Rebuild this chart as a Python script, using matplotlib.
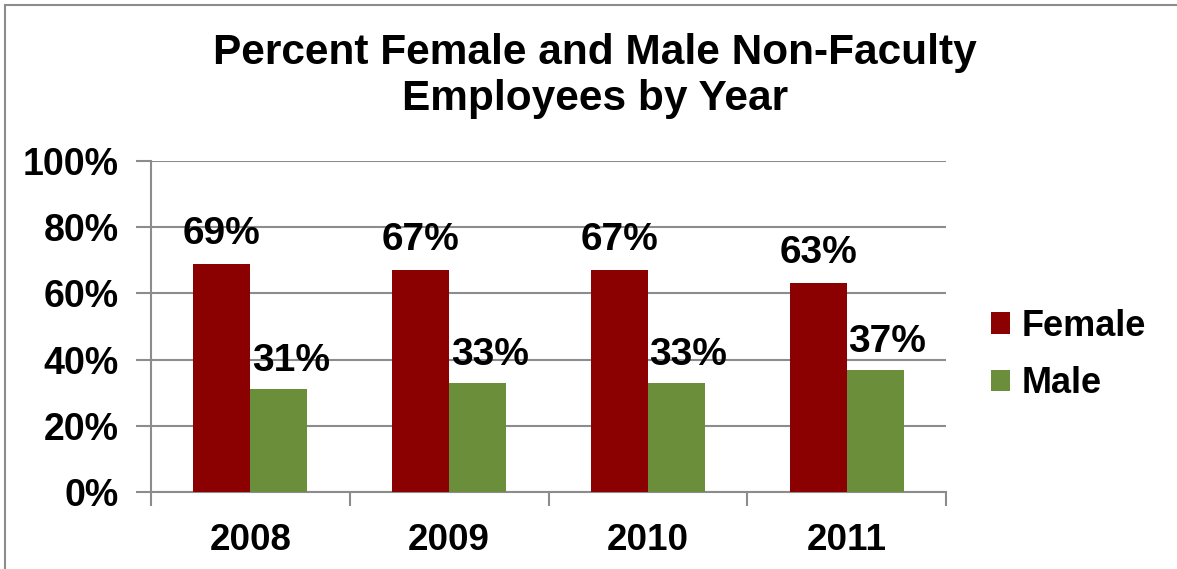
import matplotlib
matplotlib.use("Agg")
import matplotlib.pyplot as plt
from matplotlib.lines import Line2D
import numpy as np

years = ["2008", "2009", "2010", "2011"]
female = [69, 67, 67, 63]
male = [31, 33, 33, 37]
female_labels = ["69%", "67%", "67%", "63%"]
male_labels = ["31%", "33%", "33%", "37%"]
yticks = [0, 20, 40, 60, 80, 100]
ytick_labels = ["0%", "20%", "40%", "60%", "80%", "100%"]

plt.rcParams['font.family'] = ['Liberation Sans', 'DejaVu Sans']
plt.rcParams['font.weight'] = 'bold'

W, H = 1177, 569
fig = plt.figure(figsize=(W / 100, H / 100), dpi=100)
ax = fig.add_axes([151 / W, 1 - 492 / H, (946 - 151) / W, (492 - 161) / H])

c_f = "#8B0000"
c_m = "#6B8E3A"
grid_c = "#8C8C8C"
x = np.arange(len(years))
bw = 0.287
bf = ax.bar(x - bw / 2, female, bw, color=c_f, label="Female", zorder=3)
bm = ax.bar(x + bw / 2, male, bw, color=c_m, label="Male", zorder=3)

for xi, v, t in zip(x, female, female_labels):
    ax.annotate(t, (xi - bw / 2, v), xytext=(0, 20), textcoords='offset pixels',
                ha='center', va='baseline', fontsize=28, fontweight='bold')
for xi, v, t in zip(x, male, male_labels):
    ax.annotate(t, (xi + bw / 2, v), xytext=(12, 18), textcoords='offset pixels',
                ha='center', va='baseline', fontsize=28, fontweight='bold')

ax.set_xlim(-0.5, len(years) - 0.5)
ax.set_ylim(0, 100)
ax.set_yticks(yticks)
ax.set_yticklabels(ytick_labels, fontsize=27, fontweight='bold')
ax.set_xticks(x)
ax.set_xticklabels(years, fontsize=26.5, fontweight='bold')
ax.set_xticks(np.arange(-0.5, len(years), 1.0), minor=True)
ax.tick_params(axis='x', which='major', length=0, pad=22)
ax.tick_params(axis='x', which='minor', length=10, width=1.5, color=grid_c)
ax.tick_params(axis='y', length=11, width=1.5, color=grid_c, pad=12)
ax.yaxis.grid(True, color=grid_c, linewidth=1.5, zorder=0)
ax.set_axisbelow(True)
for s in ['top', 'right']:
    ax.spines[s].set_visible(False)
for s in ['left', 'bottom']:
    ax.spines[s].set_color(grid_c)
    ax.spines[s].set_linewidth(1.5)

fig.text(595 / W, 1 - 76 / H, "Percent Female and Male Non-Faculty\nEmployees by Year",
         ha='center', va='center', fontsize=30.5, fontweight='bold', linespacing=1.2)

leg = fig.legend(handles=[bf, bm], loc='center left', bbox_to_anchor=(958 / W, 1 - 355 / H),
                 frameon=False, prop={'weight': 'bold', 'size': 26},
                 handlelength=0.55, handleheight=0.55, handletextpad=0.3, labelspacing=0.62)

fig.add_artist(Line2D([5 / W, 5 / W], [0, 1 - 5 / H], color="#8C8C8C", linewidth=1.5))
fig.add_artist(Line2D([5 / W, 1], [1 - 5 / H, 1 - 5 / H], color="#8C8C8C", linewidth=1.5))

fig.savefig("out.png", dpi=100)
